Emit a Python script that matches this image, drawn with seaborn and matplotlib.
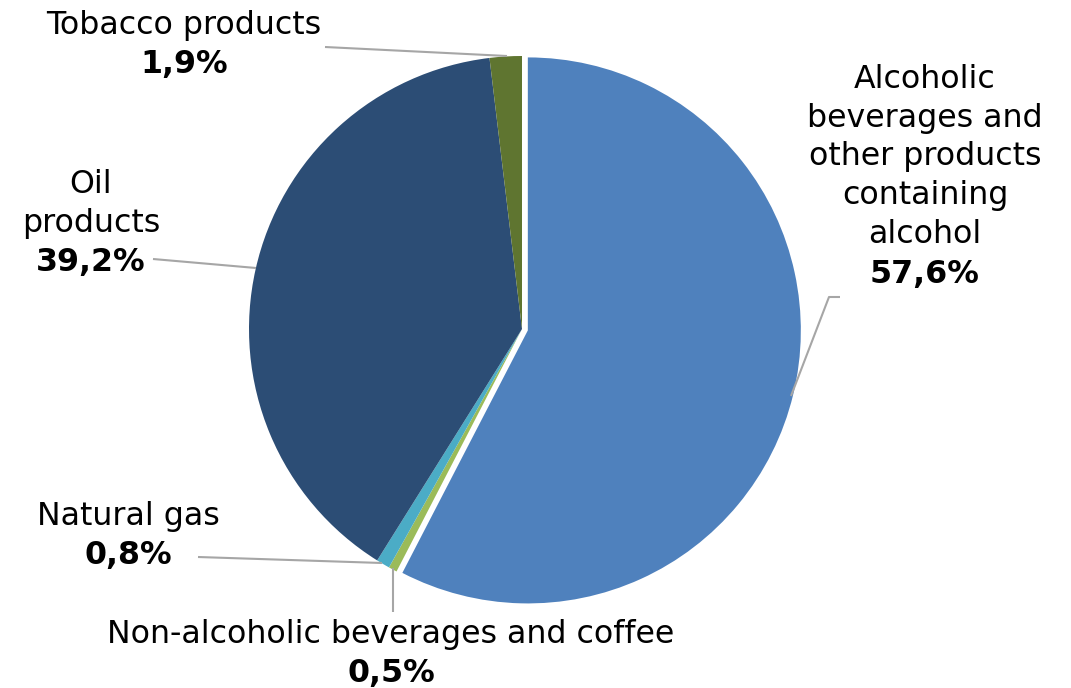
import matplotlib
matplotlib.use("Agg")
import matplotlib.pyplot as plt
import seaborn as sns

sns.set_theme(style="white")
plt.rcParams['font.family'] = ['DejaVu Sans']

categories = ["Alcoholic\nbeverages and\nother products\ncontaining\nalcohol",
              "Non-alcoholic beverages and coffee",
              "Natural gas",
              "Oil\nproducts",
              "Tobacco products"]
values = [57.6, 0.5, 0.8, 39.2, 1.9]
pct_labels = ["57,6%", "0,5%", "0,8%", "39,2%", "1,9%"]
colors = ["#4F81BD", "#9BBB59", "#4BACC6", "#2C4D75", "#5F7530"]

W, H = 1071, 688
fig = plt.figure(figsize=(W / 100, H / 100), dpi=100)
ax = fig.add_axes([0, 0, 1, 1])

cx, cy, r = 522, H - 329, 273
ax.pie(values, colors=colors, startangle=90, counterclock=False,
       center=(cx, cy), radius=r, explode=[6, 0, 0, 0, 0],
       wedgeprops=dict(linewidth=0), frame=True)
ax.set_xlim(0, W)
ax.set_ylim(0, H)
ax.set_aspect("equal")
ax.axis("off")

fs = 22.8
lc = "#A6A6A6"

def label(x, y_top, name, pct, ha="center"):
    n = name.count("\n") + 1
    ax.text(x, H - y_top, name, ha=ha, va="top", fontsize=fs, linespacing=1.32,
            color="black")
    ax.text(x, H - y_top - n * 39.0, pct, ha=ha, va="top", fontsize=fs,
            fontweight="bold", color="black")

# labels (y is top of text in pixel coords from top)
label(925, 64, categories[0], pct_labels[0])
label(391, 619, categories[1], pct_labels[1])
label(128, 501, categories[2], pct_labels[2])
label(91, 169, categories[3], pct_labels[3])
label(184, 10, categories[4], pct_labels[4])

def leader(pts):
    xs = [p[0] for p in pts]
    ys = [H - p[1] for p in pts]
    ax.plot(xs, ys, color=lc, lw=1.5, solid_capstyle="butt")

leader([(325, 47), (507, 56)])
leader([(791, 396), (829, 297), (840, 297)])
leader([(153, 259), (256, 268)])
leader([(198, 557), (382, 563)])
leader([(393, 568), (393, 612)])

fig.savefig("out.png", dpi=100)
